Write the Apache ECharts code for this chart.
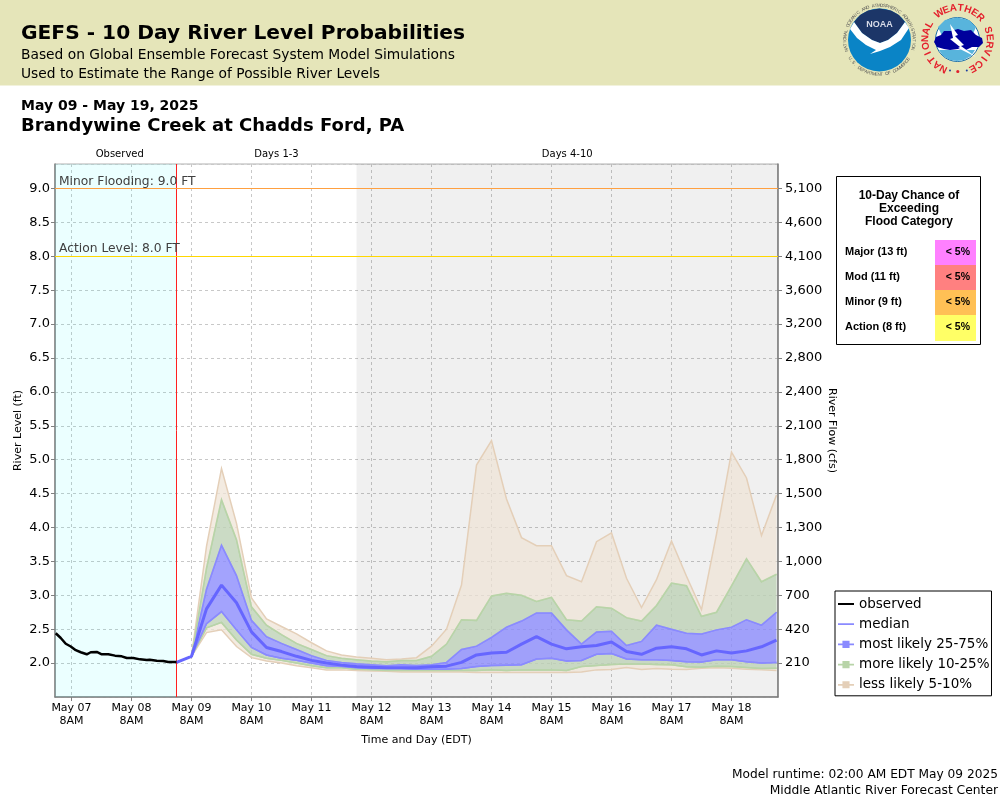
<!DOCTYPE html>
<html>
<head>
<meta charset="utf-8">
<title>GEFS River Level Probabilities</title>
<script src="https://cdn.jsdelivr.net/npm/echarts@6/dist/echarts.min.js"></script>
<style>
html, body { margin: 0; padding: 0; background: #fff; }
#chart { width: 1000px; height: 800px; }
</style>
</head>
<body>
<div id="chart"></div>
<script>
// observed stage: hours after May 07 00:00, level in ft
const observedHours = [1.7, 3.7, 5.7, 7.7, 9.7, 11.7, 14.1, 15.7, 18.1, 20.1, 22.7, 25.4, 28.1, 30.1, 32.7, 35.4, 38.1, 39.3, 40.1, 42.1, 44.7, 46.7, 50];
const observedLevels = [2.44, 2.37, 2.285, 2.245, 2.19, 2.16, 2.13, 2.16, 2.165, 2.13, 2.13, 2.11, 2.10, 2.075, 2.075, 2.055, 2.045, 2.05, 2.04, 2.035, 2.03, 2.015, 2.015];

// forecast percentiles, every 6 hours from May 09 8AM
const pct05 = [2.10, 2.45, 2.49, 2.245, 2.08, 2.03, 2.00, 1.96, 1.93, 1.90, 1.90, 1.89, 1.885, 1.88, 1.87, 1.87, 1.87, 1.87, 1.87, 1.86, 1.86, 1.86, 1.86, 1.86, 1.86, 1.86, 1.87, 1.90, 1.905, 1.935, 1.905, 1.92, 1.91, 1.905, 1.925, 1.93, 1.925, 1.91, 1.90, 1.89];
const pct10 = [2.10, 2.52, 2.60, 2.34, 2.13, 2.07, 2.04, 2.00, 1.96, 1.93, 1.93, 1.91, 1.90, 1.89, 1.89, 1.89, 1.89, 1.89, 1.89, 1.89, 1.90, 1.89, 1.90, 1.90, 1.90, 1.89, 1.95, 1.965, 1.98, 1.985, 1.985, 1.98, 1.975, 1.945, 1.94, 1.955, 1.95, 1.935, 1.92, 1.925];
const pct25 = [2.10, 2.58, 2.76, 2.49, 2.23, 2.12, 2.07, 2.04, 2.00, 1.96, 1.95, 1.93, 1.92, 1.92, 1.92, 1.91, 1.91, 1.91, 1.92, 1.95, 1.965, 1.97, 1.975, 2.06, 2.07, 2.03, 2.04, 2.13, 2.14, 2.06, 2.05, 2.05, 2.04, 2.02, 2.015, 2.05, 2.05, 2.02, 2.00, 2.01];
const pct50 = [2.10, 2.80, 3.15, 2.89, 2.46, 2.23, 2.17, 2.10, 2.04, 2.00, 1.97, 1.95, 1.94, 1.93, 1.93, 1.93, 1.945, 1.955, 2.01, 2.12, 2.15, 2.16, 2.28, 2.39, 2.28, 2.21, 2.24, 2.26, 2.31, 2.17, 2.13, 2.22, 2.24, 2.21, 2.12, 2.18, 2.15, 2.18, 2.24, 2.34];
const pct75 = [2.10, 3.09, 3.74, 3.29, 2.63, 2.39, 2.29, 2.20, 2.11, 2.04, 2.01, 1.99, 1.975, 1.96, 1.975, 1.965, 1.975, 2.01, 2.20, 2.25, 2.38, 2.53, 2.62, 2.74, 2.74, 2.49, 2.28, 2.46, 2.47, 2.26, 2.32, 2.56, 2.50, 2.44, 2.43, 2.49, 2.53, 2.64, 2.56, 2.75];
const pct90 = [2.10, 3.40, 4.41, 3.82, 2.83, 2.56, 2.42, 2.29, 2.20, 2.11, 2.07, 2.05, 2.03, 2.02, 2.04, 2.04, 2.10, 2.28, 2.64, 2.63, 2.99, 3.03, 3.00, 2.91, 2.97, 2.64, 2.62, 2.83, 2.81, 2.67, 2.62, 2.85, 3.18, 3.14, 2.69, 2.75, 3.14, 3.54, 3.20, 3.31];
const pct95 = [2.10, 3.72, 4.87, 4.06, 2.96, 2.65, 2.54, 2.43, 2.30, 2.18, 2.12, 2.09, 2.07, 2.05, 2.06, 2.08, 2.25, 2.50, 3.15, 4.92, 5.28, 4.42, 3.85, 3.73, 3.73, 3.29, 3.20, 3.79, 3.92, 3.25, 2.82, 3.23, 3.80, 3.28, 2.79, 3.90, 5.11, 4.73, 3.88, 4.48];
const medianStart = 2.01;

// right axis: stage to flow rating
const ratingLevels = [2.0, 2.5, 3.0, 3.5, 4.0, 4.5, 5.0, 5.5, 6.0, 6.5, 7.0, 7.5, 8.0, 8.5, 9.0];
const ratingFlows = ['210', '420', '700', '1,000', '1,300', '1,500', '1,800', '2,100', '2,400', '2,800', '3,200', '3,600', '4,100', '4,600', '5,100'];

const tickDays = [7, 8, 9, 10, 11, 12, 13, 14, 15, 16, 17, 18];
const floodCategories = ['Major (13 ft)', 'Mod (11 ft)', 'Minor (9 ft)', 'Action (8 ft)'];
const floodChances = ['< 5%', '< 5%', '< 5%', '< 5%'];
const floodColors = ['#ff80ff', '#ff8080', '#ffc055', '#ffff66'];

const HOUR = 3600000;
const may = (day, hour) => Date.UTC(2025, 4, day, hour);
const observedStart = may(7, 0);
const forecastStart = may(9, 8);
const runtime = may(9, 2);
const day3End = may(12, 2);
const axisMin = may(7, 1) + 24 * 60000;
const axisMax = may(19, 2) + 36 * 60000;

const times = pct50.map((v, i) => forecastStart + i * 6 * HOUR);
const pairs = (vals) => vals.map((v, i) => [times[i], v]);

const FONT = '"DejaVu Sans"';
const TAN = '#e4cfb8', GREEN = '#b8d4a8', BLUE = '#8a8aff';
const TAN_FILL = 'rgba(239,228,215,0.75)', GREEN_FILL = 'rgba(190,210,182,0.8)', BLUE_FILL = 'rgba(140,140,252,0.8)';

// one band between two percentile arrays, filled with an outline on each edge
function band(name, hi, lo, fill, hiStroke, loStroke) {
    return {
        name: name, type: 'custom', silent: true,
        data: [[times[0], lo[0]]],
        itemStyle: { color: fill },
        renderItem: (params, api) => {
            const upper = hi.map((v, i) => api.coord([times[i], v]));
            const lower = lo.map((v, i) => api.coord([times[i], v]));
            return {
                type: 'group',
                children: [
                    { type: 'polygon', shape: { points: upper.concat(lower.slice().reverse()) }, style: { fill: fill } },
                    { type: 'polyline', shape: { points: upper }, style: { stroke: hiStroke, lineWidth: 1.5, fill: null } },
                    { type: 'polyline', shape: { points: lower }, style: { stroke: loStroke, lineWidth: 1.5, fill: null } }
                ]
            };
        }
    };
}

// letters set around a circle, angle in degrees clockwise from 12 o'clock
function ring(text, cx, cy, r, start, step, size, color, bold, flip) {
    return text.split('').map((ch, i) => {
        const a = (start + i * step) * Math.PI / 180;
        return {
            type: 'text', x: cx + r * Math.sin(a), y: cy - r * Math.cos(a),
            rotation: flip ? Math.PI - a : -a, silent: true,
            style: { text: ch, fill: color, align: 'center', verticalAlign: 'middle',
                font: (bold ? 'bold ' : '') + size + 'px "Liberation Sans"' }
        };
    });
}

const poly = (points, fill) => ({ type: 'polygon', silent: true, shape: { points: points }, style: { fill: fill } });

function logos() {
    const noaa = [
        { type: 'circle', shape: { cx: 879.5, cy: 40, r: 31.5 }, style: { fill: '#0a84c6' } },
        poly([[854, 22], [860, 15], [868, 10.5], [879.5, 8.5], [891, 10.5], [899, 15], [905, 22], [897, 33], [888, 40], [880, 43], [872, 40], [862, 33]], '#1c3668'),
        poly([[854, 22], [862, 33], [872, 40], [880, 43], [888, 40], [897, 33], [905, 22], [909, 28], [901, 40], [890, 47], [880, 51], [870, 54], [876, 50], [866, 45], [857, 38], [850, 29]], '#ffffff'),
        { type: 'text', x: 879.5, y: 25, style: { text: 'NOAA', fill: '#d8dce8', align: 'center', verticalAlign: 'middle', font: 'bold 9px "Liberation Sans"' } }
    ].concat(
        ring('NATIONAL OCEANIC AND ATMOSPHERIC ADMINISTRATION', 879.5, 40, 34.5, -107, 4.6, 4.5, '#555', false, false),
        ring('U.S. DEPARTMENT OF COMMERCE', 879.5, 40, 34.5, 238, -4.4, 4.5, '#555', false, true)
    );
    const nws = [
        { type: 'circle', shape: { cx: 957.5, cy: 39.5, r: 22 }, style: { fill: '#ffffff', stroke: '#1a6ea8', lineWidth: 1 } },
        poly([[938, 27], [945, 20], [957, 17.5], [969, 20], [976, 27], [972, 36], [942, 36]], '#58b4dc'),
        poly([[939, 50], [975, 50], [971, 56], [964, 60], [957, 61], [950, 60], [943, 56]], '#58b4dc'),
        poly([[934, 42], [936, 37], [941, 35], [944, 31], [951, 31], [958, 29], [964, 31], [971, 30], [976, 35], [982, 38], [983, 43], [979, 47], [972, 47], [966, 50], [958, 49], [950, 50], [944, 49], [937, 47]], '#00009c'),
        poly([[950, 24], [958, 35], [955, 36], [964, 45], [961, 46], [976, 57], [958, 48], [960, 47], [950, 39], [953, 38]], '#ffffff'),
        { type: 'circle', shape: { cx: 950, cy: 70.5, r: 1 }, style: { fill: '#1c3ea0' } },
        { type: 'circle', shape: { cx: 957.8, cy: 71.5, r: 1.6 }, style: { fill: '#e0202c' } },
        { type: 'circle', shape: { cx: 966.8, cy: 70.5, r: 1 }, style: { fill: '#1c3ea0' } }
    ].concat(ring('NATIONAL WEATHER SERVICE', 957.5, 40, 32, -154, 13.3, 10, '#e4202c', true, false));
    return noaa.concat(nws);
}

function floodTable() {
    const els = [
        { type: 'rect', shape: { x: 836.5, y: 176.5, width: 144, height: 168 }, style: { fill: '#fff', stroke: '#000', lineWidth: 1 } }
    ];
    ['10-Day Chance of', 'Exceeding', 'Flood Category'].forEach((line, i) => {
        els.push({ type: 'text', x: 909, y: 195.5 + i * 13, style: { text: line, fill: '#000', align: 'center', verticalAlign: 'middle', font: 'bold 12px "Liberation Sans"' } });
    });
    floodCategories.forEach((cat, i) => {
        const top = 240 + i * 25;
        els.push({ type: 'rect', shape: { x: 935, y: top, width: 41, height: i === 3 ? 26 : 25 }, style: { fill: floodColors[i] } });
        els.push({ type: 'text', x: 845, y: top + 12, style: { text: cat, fill: '#000', verticalAlign: 'middle', font: 'bold 11px "Liberation Sans"' } });
        els.push({ type: 'text', x: 970, y: top + 12, style: { text: floodChances[i], fill: '#000', align: 'right', verticalAlign: 'middle', font: 'bold 10.5px "Liberation Sans"' } });
    });
    return els;
}

function pageText() {
    const lines = [
        ['GEFS - 10 Day River Level Probabilities', 21, 33.5, 'bold 20.2px ' + FONT],
        ['Based on Global Ensemble Forecast System Model Simulations', 21, 55, '13.8px ' + FONT],
        ['Used to Estimate the Range of Possible River Levels', 21, 74, '13.8px ' + FONT],
        ['May 09 - May 19, 2025', 21, 106, 'bold 14px ' + FONT],
        ['Brandywine Creek at Chadds Ford, PA', 21, 126, 'bold 18px ' + FONT]
    ];
    return lines.map(l => ({ type: 'text', x: l[1], y: l[2], z: 5,
        style: { text: l[0], fill: '#000', verticalAlign: 'middle', font: l[3] } }));
}

const chart = echarts.init(document.getElementById('chart'), null, { renderer: 'canvas' });

const tickValues = tickDays.map(d => may(d, 8));
const gridLine = { show: true, lineStyle: { color: '#c8c8c8', type: [3, 3], width: 1 } };
const greyLine = { lineStyle: { color: '#808080', width: 1.5 } };
const BOX_ICON = 'path://M0 0h.01v.01zM0 3.5H5V0.5H13V3.5H18V5.5H13V8.5H5V5.5H0zM18 9h.01v.01z';
const LINE_ICON = 'path://M0 0h.01v.01zM0 3.5H18V5.5H0zM18 9h.01v.01z';
const noBorder = { borderWidth: 0, borderColor: 'rgba(0,0,0,0)' };

const option = {
    animation: false,
    backgroundColor: '#fff',
    textStyle: { fontFamily: FONT },
    grid: { left: 55, right: 222, top: 164, bottom: 103, show: true, borderColor: '#b0b0b0', borderWidth: 1 },
    xAxis: {
        type: 'value', min: axisMin, max: axisMax,
        name: 'Time and Day (EDT)', nameLocation: 'middle', nameGap: 38,
        nameTextStyle: { fontSize: 11, color: '#000', fontFamily: FONT },
        axisLine: greyLine,
        axisTick: { length: 4, lineStyle: { color: '#808080' }, customValues: tickValues },
        axisLabel: {
            customValues: tickValues,
            hideOverlap: false, fontSize: 11, color: '#000', lineHeight: 13, margin: 5, fontFamily: FONT,
            formatter: (v) => 'May ' + String(new Date(v).getUTCDate()).padStart(2, '0') + '\n8AM'
        },
        splitLine: gridLine
    },
    yAxis: [
        {
            type: 'value', min: 1.5, max: 9.36, interval: 0.5, position: 'left',
            name: 'River Level (ft)', nameLocation: 'middle', nameGap: 31, nameRotate: 90, nameMoveOverlap: false,
            nameTextStyle: { fontSize: 11, color: '#000', fontFamily: FONT },
            axisLine: { show: true, lineStyle: greyLine.lineStyle },
            axisTick: { show: true, length: 4, lineStyle: { color: '#808080' } },
            axisLabel: { fontSize: 13, color: '#000', margin: 5, padding: [3, 0, 0, 0], showMinLabel: false, showMaxLabel: false, fontFamily: FONT,
                formatter: (v) => v.toFixed(1) },
            splitLine: gridLine
        },
        {
            type: 'value', min: 1.5, max: 9.36, interval: 0.5, position: 'right',
            name: 'River Flow (cfs)', nameLocation: 'middle', nameGap: 48, nameRotate: -90, nameMoveOverlap: false,
            nameTextStyle: { fontSize: 11, color: '#000', fontFamily: FONT },
            axisLine: { show: true, lineStyle: greyLine.lineStyle },
            axisTick: { show: true, length: 4, lineStyle: { color: '#808080' } },
            axisLabel: { fontSize: 13, color: '#000', margin: 7, padding: [3, 0, 0, 0], showMinLabel: false, showMaxLabel: false, fontFamily: FONT,
                formatter: (v) => { const i = ratingLevels.indexOf(+v.toFixed(1)); return i < 0 ? '' : ratingFlows[i]; } },
            splitLine: { show: false }
        }
    ],
    legend: {
        left: 835, top: 591, orient: 'vertical', padding: [4.5, 2, 2.5, 3], itemGap: 3.2,
        borderColor: '#000', borderWidth: 1, backgroundColor: '#fff',
        itemWidth: 16, itemHeight: 9, selectedMode: false,
        textStyle: { fontSize: 13.5, color: '#000', fontFamily: FONT, lineHeight: 17 },
        data: [
            { name: 'observed', icon: LINE_ICON, itemStyle: { color: '#000' } },
            { name: 'median', icon: LINE_ICON, itemStyle: { color: BLUE } },
            { name: 'most likely 25-75%', icon: BOX_ICON, itemStyle: { color: BLUE } },
            { name: 'more likely 10-25%', icon: BOX_ICON, itemStyle: { color: GREEN } },
            { name: 'less likely 5-10%', icon: BOX_ICON, itemStyle: { color: TAN } }
        ]
    },
    graphic: [
        { type: 'rect', z: -10, shape: { x: 0, y: 0, width: 1000, height: 85.5 }, style: { fill: '#e5e5b9' } }
    ].concat(pageText(), logos(), floodTable(), [
        { type: 'text', x: 998, y: 775, style: { text: 'Model runtime: 02:00 AM EDT May 09 2025', fill: '#000', align: 'right', verticalAlign: 'middle', font: '12.2px ' + FONT } },
        { type: 'text', x: 998, y: 791, style: { text: 'Middle Atlantic River Forecast Center', fill: '#000', align: 'right', verticalAlign: 'middle', font: '12.3px ' + FONT } }
    ]),
    series: [
        {
            name: 'period', type: 'line', data: [], silent: true,
            markArea: {
                silent: true,
                label: { position: 'top', fontSize: 10, color: '#000', distance: 5, fontFamily: FONT },
                data: [
                    [{ name: 'Observed', xAxis: axisMin, yAxis: 1.5, itemStyle: Object.assign({ color: 'rgba(0,255,255,0.08)' }, noBorder), label: { offset: [4, 0] } }, { xAxis: runtime, yAxis: 9.36 }],
                    [{ name: 'Days 1-3', xAxis: runtime, yAxis: 1.5, itemStyle: Object.assign({ color: 'rgba(255,255,255,0)' }, noBorder), label: { offset: [10, 0] } }, { xAxis: day3End, yAxis: 9.36 }],
                    [{ name: 'Days 4-10', xAxis: day3End, yAxis: 1.5, itemStyle: Object.assign({ color: 'rgba(0,0,0,0.06)' }, noBorder) }, { xAxis: axisMax, yAxis: 9.36 }]
                ]
            }
        },
        band('less likely 5-10%', pct10, pct05, TAN_FILL, GREEN, TAN),
        band('more likely 10-25%', pct25, pct10, GREEN_FILL, BLUE, GREEN),
        band('most likely 25-75%', pct75, pct25, BLUE_FILL, BLUE, BLUE),
        band('more likely 10-25%', pct90, pct75, GREEN_FILL, GREEN, BLUE),
        band('less likely 5-10%', pct95, pct90, TAN_FILL, TAN, GREEN),
        {
            name: 'forecast start', type: 'line', symbol: 'none', silent: true, z: 3,
            data: [[runtime, 1.5], [runtime, 9.36]],
            lineStyle: { color: '#ff2020', width: 1 }
        },
        {
            name: 'median', type: 'line', symbol: 'none', silent: true, z: 4,
            data: [[runtime, medianStart]].concat(pairs(pct50)),
            lineStyle: { color: '#6666ff', width: 3 }, itemStyle: { color: BLUE }
        },
        {
            name: 'observed', type: 'line', symbol: 'none', silent: true, z: 5,
            data: observedHours.map((h, i) => [observedStart + h * HOUR, observedLevels[i]]),
            lineStyle: { color: '#000', width: 2.5 }, itemStyle: { color: '#000' },
            markLine: {
                silent: true, symbol: 'none', animation: false,
                data: [
                    { yAxis: 9, lineStyle: { color: '#ffa040', width: 1.2, type: 'solid' }, label: { formatter: 'Minor Flooding: 9.0 FT' } },
                    { yAxis: 8, lineStyle: { color: '#ffd700', width: 1.2, type: 'solid' }, label: { formatter: 'Action Level: 8.0 FT' } }
                ],
                label: { position: 'insideStartTop', fontSize: 12.3, color: '#404040', distance: [4, 1], fontFamily: FONT }
            }
        }
    ]
};

chart.setOption(option);
</script>
</body>
</html>
